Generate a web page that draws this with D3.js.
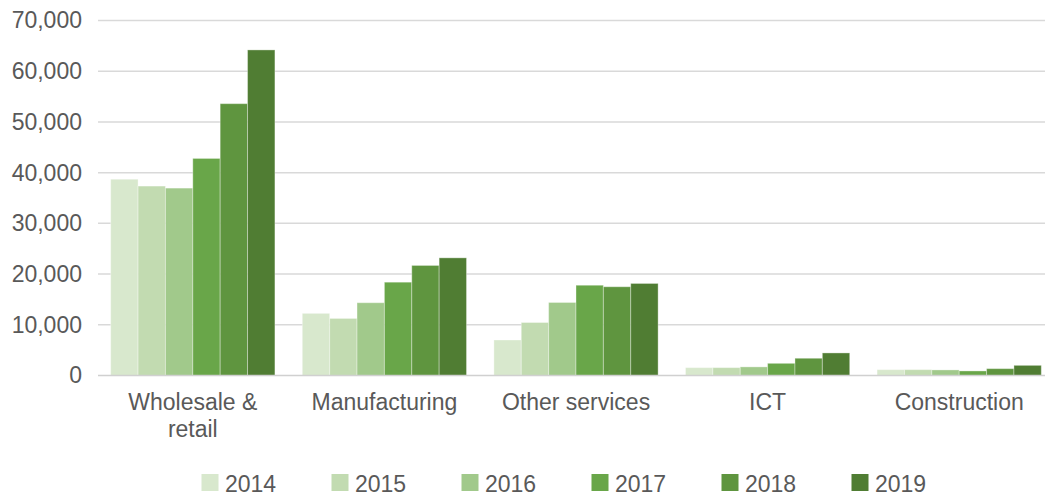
<!DOCTYPE html>
<html>
<head>
<meta charset="utf-8">
<script src="https://cdn.jsdelivr.net/npm/d3@7"></script>
<style>
  html, body { margin: 0; padding: 0; background: #ffffff; }
  svg { display: block; }
  text { font-family: "Liberation Sans", Arial, sans-serif; fill: #595959; }
</style>
</head>
<body>
<svg id="chart" width="1045" height="495"></svg>
<script>
// Sector totals by year
const categories = ["Wholesale & retail", "Manufacturing", "Other services", "ICT", "Construction"];
const years = ["2014", "2015", "2016", "2017", "2018", "2019"];
const values2014 = [38700, 12250, 7000, 1550, 1150];
const values2015 = [37350, 11250, 10450, 1550, 1150];
const values2016 = [36950, 14350, 14400, 1700, 1100];
const values2017 = [42800, 18400, 17800, 2400, 900];
const values2018 = [53600, 21700, 17500, 3400, 1350];
const values2019 = [64200, 23200, 18150, 4450, 2000];
const yTicks = [0, 10000, 20000, 30000, 40000, 50000, 60000, 70000];
const yearColors = ["#d8e8cd", "#c2dbb1", "#a1c98b", "#69a649", "#5f953f", "#507d33"];

const seriesByYear = [values2014, values2015, values2016, values2017, values2018, values2019];

const svg = d3.select("#chart");
const plotLeft = 97, plotRight = 1055, plotTop = 20.5, plotBottom = 375.5;

const x0 = d3.scaleBand().domain(categories).range([plotLeft, plotRight]).padding(0);
const x1 = d3.scaleBand().domain(years).range([0, x0.bandwidth()]).paddingInner(0).paddingOuter(0.5);
const y = d3.scaleLinear().domain([0, 70000]).range([plotBottom, plotTop]);
const color = d3.scaleOrdinal().domain(years).range(yearColors);

// Horizontal gridlines
svg.append("g")
  .selectAll("line")
  .data(yTicks.filter(t => t > 0))
  .join("line")
  .attr("x1", plotLeft + 1)
  .attr("x2", plotRight)
  .attr("y1", d => y(d))
  .attr("y2", d => y(d))
  .attr("stroke", "#d9d9d9")
  .attr("stroke-width", 1.5);

// Y axis labels
const yAxis = d3.axisLeft(y)
  .tickValues(yTicks)
  .tickFormat(d3.format(","))
  .tickSize(0)
  .tickPadding(0);
const yAxisG = svg.append("g")
  .attr("transform", `translate(82,0)`)
  .call(yAxis);
yAxisG.select(".domain").remove();
yAxisG.selectAll("text")
  .attr("font-size", 23)
  .attr("fill", "#595959")
  .style("font-family", '"Liberation Sans", Arial, sans-serif');

// Bars
const groups = svg.append("g")
  .selectAll("g")
  .data(categories)
  .join("g")
  .attr("transform", d => `translate(${x0(d)},0)`);

groups.selectAll("rect")
  .data((cat, ci) => years.map((yr, yi) => ({ year: yr, value: seriesByYear[yi][ci] })))
  .join("rect")
  .attr("x", d => x1(d.year))
  .attr("width", x1.bandwidth())
  .attr("y", d => y(d.value))
  .attr("height", d => y(0) - y(d.value))
  .attr("fill", d => color(d.year))
  .attr("stroke", "rgba(255,255,255,0.35)")
  .attr("stroke-width", 1);

// Baseline
svg.append("line")
  .attr("x1", plotLeft + 1)
  .attr("x2", plotRight)
  .attr("y1", y(0))
  .attr("y2", y(0))
  .attr("stroke", "#d0d0d0")
  .attr("stroke-width", 1.5);

// Category labels, wrapped to fit the band
const xAxis = d3.axisBottom(x0).tickSize(0).tickPadding(0);
const xAxisG = svg.append("g")
  .attr("transform", `translate(0,${y(0)})`)
  .call(xAxis);
xAxisG.select(".domain").remove();
xAxisG.selectAll("text")
  .attr("font-size", 23)
  .attr("fill", "#595959")
  .style("font-family", '"Liberation Sans", Arial, sans-serif')
  .attr("y", 34)
  .attr("dy", 0)
  .each(function(d) {
    const t = d3.select(this);
    const words = d.split(" ");
    t.text(null);
    let line = [];
    let lineNo = 0;
    let tspan = t.append("tspan").attr("x", 0).attr("dy", 0);
    words.forEach(w => {
      line.push(w);
      tspan.text(line.join(" "));
      if (tspan.node().getComputedTextLength() > 165 && line.length > 1) {
        line.pop();
        tspan.text(line.join(" "));
        line = [w];
        lineNo++;
        tspan = t.append("tspan").attr("x", 0).attr("dy", 27.5).text(w);
      }
    });
  });

// Legend
const legend = svg.append("g")
  .selectAll("g")
  .data(years)
  .join("g")
  .attr("transform", (d, i) => `translate(${201.5 + i * 130},474)`);

legend.append("rect")
  .attr("width", 17)
  .attr("height", 17)
  .attr("fill", d => color(d));

legend.append("text")
  .attr("x", 23.5)
  .attr("y", 17.5)
  .attr("font-size", 23)
  .text(d => d);
</script>
</body>
</html>
